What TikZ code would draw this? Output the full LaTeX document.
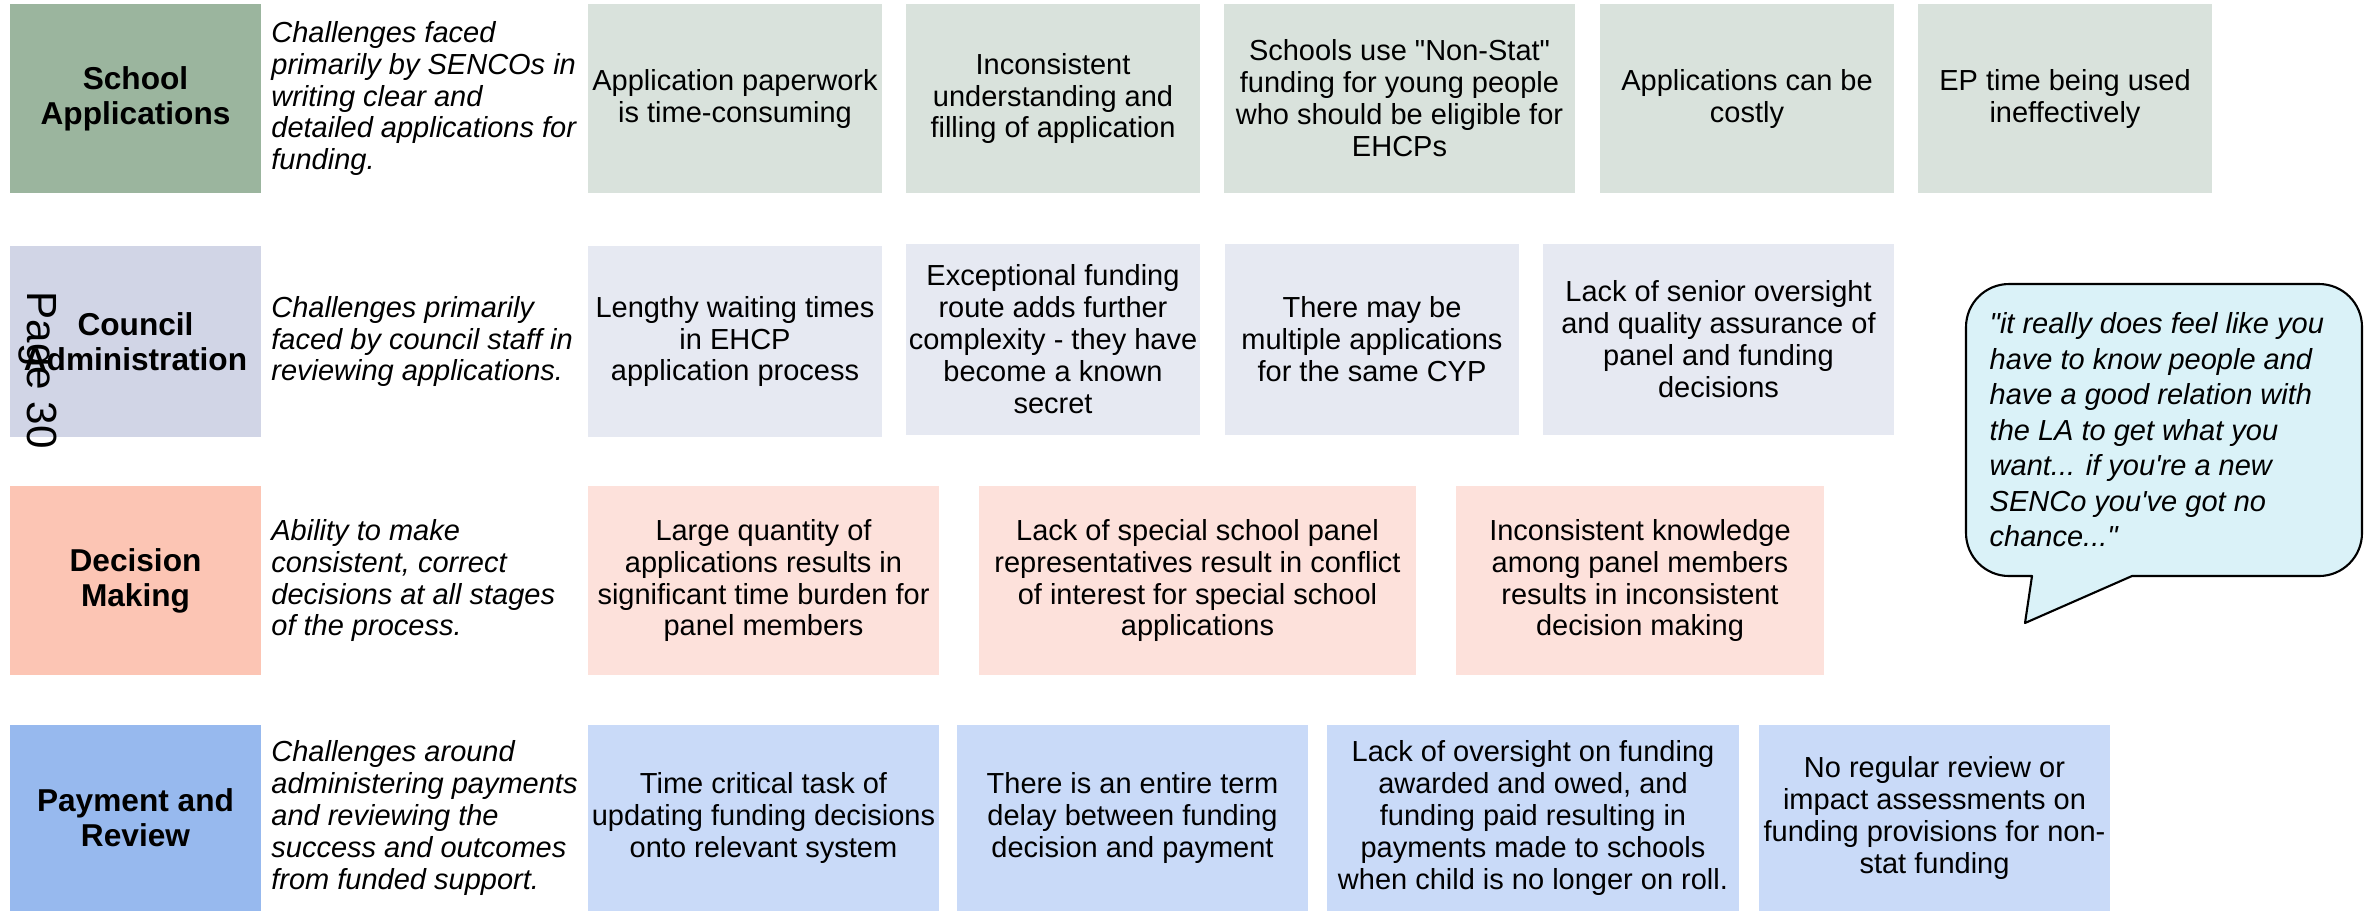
\documentclass[tikz,border=0pt]{standalone}
\usepackage{fontspec}
\newfontfamily\arial{Liberation Sans}
\usetikzlibrary{positioning}

\definecolor{saHead}{HTML}{9BB59E}
\definecolor{saCard}{HTML}{D9E2DC}
\definecolor{caHead}{HTML}{D1D5E6}
\definecolor{caCard}{HTML}{E6E9F2}
\definecolor{dmHead}{HTML}{FCC5B4}
\definecolor{dmCard}{HTML}{FDE1DB}
\definecolor{prHead}{HTML}{97B9EE}
\definecolor{prCard}{HTML}{C9DAF8}
\definecolor{quoteFill}{HTML}{DAF2F8}

\tikzset{
    every node/.style={
        inner sep=0pt,
        text=black
    },
    heading/.style={
        rectangle,
        align=center,
        minimum width=2.51cm,
        font=\arial\bfseries\fontsize{9}{10}\selectfont
    },
    card/.style={
        rectangle,
        align=center,
        font=\arial\fontsize{8.25}{9.1}\selectfont
    },
    blurb/.style={
        align=left,
        font=\arial\itshape\fontsize{8.25}{9.1}\selectfont
    },
    quote/.style={
        align=left,
        font=\arial\itshape\fontsize{8.25}{10.1}\selectfont
    }
}

\begin{document}
\begin{tikzpicture}
            \useasboundingbox (0,0) rectangle (23.64,-9.11);

            % School applications
            \node (saHead) [
                heading, fill=saHead,
                minimum height=1.89cm,
            ] at (1.355,-0.985) {School\\Applications};
            \node (saText) [blurb, right=0.09cm of saHead]
                {Challenges faced\\primarily by SENCOs in\\writing clear and\\detailed applications for\\funding.};
            \node (sa1) [card, fill=saCard, minimum width=2.94cm, minimum height=1.89cm]
                at (7.35,-0.985) {Application paperwork\\is time-consuming};
            \node (sa2) [card, fill=saCard, minimum width=2.94cm, minimum height=1.89cm]
                at (10.53,-0.985) {Inconsistent\\understanding and\\filling of application};
            \node (sa3) [card, fill=saCard, minimum width=3.51cm, minimum height=1.89cm]
                at (13.995,-0.985) {Schools use "Non-Stat"\\funding for young people\\who should be eligible for\\EHCPs};
            \node (sa4) [card, fill=saCard, minimum width=2.94cm, minimum height=1.89cm]
                at (17.47,-0.985) {Applications can be\\costly};
            \node (sa5) [card, fill=saCard, minimum width=2.94cm, minimum height=1.89cm]
                at (20.65,-0.985) {EP time being used\\ineffectively};

            % Council administration
            \node (caHead) [
                heading, fill=caHead,
                minimum height=1.91cm,
            ] at (1.355,-3.415) {Council\\Administration};
            \node (caText) [blurb, right=0.09cm of caHead]
                {Challenges primarily\\faced by council staff in\\reviewing applications.};
            \node (ca1) [card, fill=caCard, minimum width=2.94cm, minimum height=1.91cm]
                at (7.35,-3.415) {Lengthy waiting times\\in EHCP\\application process};
            \node (ca2) [card, fill=caCard, minimum width=2.94cm, minimum height=1.91cm]
                at (10.53,-3.395) {Exceptional funding\\route adds further\\complexity - they have\\become a known\\secret};
            \node (ca3) [card, fill=caCard, minimum width=2.94cm, minimum height=1.91cm]
                at (13.72,-3.395) {There may be\\multiple applications\\for the same CYP};
            \node (ca4) [card, fill=caCard, minimum width=3.51cm, minimum height=1.91cm]
                at (17.185,-3.395) {Lack of senior oversight\\and quality assurance of\\panel and funding\\decisions};

            % Decision making
            \node (dmHead) [
                heading, fill=dmHead,
                minimum height=1.89cm,
            ] at (1.355,-5.805) {Decision\\Making};
            \node (dmText) [blurb, right=0.09cm of dmHead]
                {Ability to make\\consistent, correct\\decisions at all stages\\of the process.};
            \node (dm1) [card, fill=dmCard, minimum width=3.51cm, minimum height=1.89cm]
                at (7.635,-5.805) {Large quantity of\\applications results in\\significant time burden for\\panel members};
            \node (dm2) [card, fill=dmCard, minimum width=4.37cm, minimum height=1.89cm]
                at (11.975,-5.805) {Lack of special school panel\\representatives result in conflict\\of interest for special school\\applications};
            \node (dm3) [card, fill=dmCard, minimum width=3.68cm, minimum height=1.89cm]
                at (16.40,-5.805) {Inconsistent knowledge\\among panel members\\results in inconsistent\\decision making};

            % Payment and review
            \node (prHead) [
                heading, fill=prHead,
                minimum height=1.86cm,
            ] at (1.355,-8.18) {Payment and\\Review};
            \node (prText) [blurb, right=0.09cm of prHead]
                {Challenges around\\administering payments\\and reviewing the\\success and outcomes\\from funded support.};
            \node (pr1) [card, fill=prCard, minimum width=3.51cm, minimum height=1.86cm]
                at (7.635,-8.18) {Time critical task of\\updating funding decisions\\onto relevant system};
            \node (pr2) [card, fill=prCard, minimum width=3.51cm, minimum height=1.86cm]
                at (11.325,-8.18) {There is an entire term\\delay between funding\\decision and payment};
            \node (pr3) [card, fill=prCard, minimum width=4.12cm, minimum height=1.86cm]
                at (15.33,-8.18) {Lack of oversight on funding\\awarded and owed, and\\funding paid resulting in\\payments made to schools\\when child is no longer on roll.};
            \node (pr4) [card, fill=prCard, minimum width=3.51cm, minimum height=1.86cm]
                at (19.345,-8.18) {No regular review or\\impact assessments on\\funding provisions for non-\\stat funding};

            % Speech bubble
            \draw [fill=quoteFill, line width=0.6pt, line join=round]
                (20.32,-5.76) -- (20.25,-6.23) -- (21.32,-5.76)
                -- (23.19,-5.76) arc[start angle=270, end angle=360, radius=0.43]
                -- (23.62,-3.27) arc[start angle=0, end angle=90, radius=0.43]
                -- (20.09,-2.84) arc[start angle=90, end angle=180, radius=0.43]
                -- (19.66,-5.33) arc[start angle=180, end angle=270, radius=0.43]
                -- cycle;
            \node (quoteText) [quote, anchor=west] at (19.89,-4.30)
                {"it really does feel like you\\have to know people and\\have a good relation with\\the LA to get what you\\want... if you're a new\\SENCo you've got no\\chance..."};

            % Page number
            \node (pageNo) [rotate=-90, font=\arial\fontsize{12}{14}\selectfont]
                at (0.38,-3.70) {Page 30};
        \end{tikzpicture}
\end{document}
